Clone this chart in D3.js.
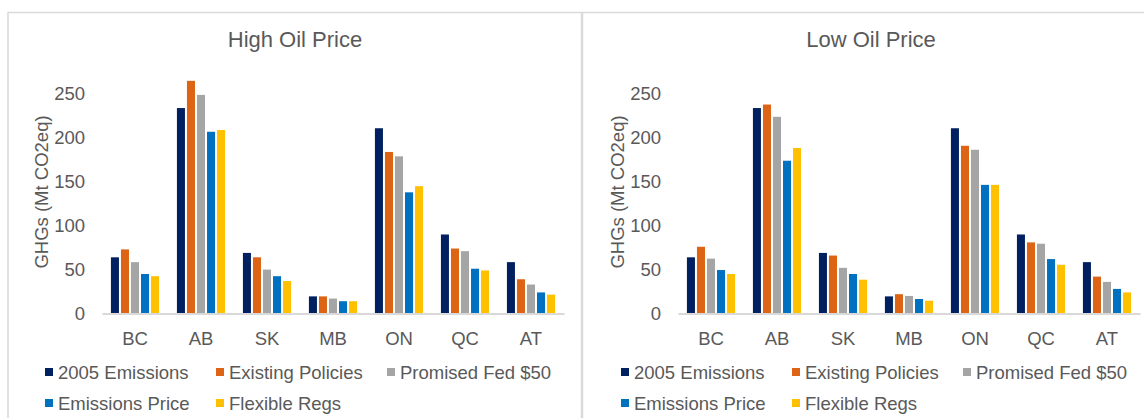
<!DOCTYPE html>
<html>
<head>
<meta charset="utf-8">
<script src="https://cdn.jsdelivr.net/npm/d3@7"></script>
<style>
  html, body { margin: 0; padding: 0; background: #fff; }
  svg { display: block; font-family: "Liberation Sans", Arial, sans-serif; }
</style>
</head>
<body>
<svg id="chart" width="1144" height="418"></svg>
<script>
// Provinces / regions on the x axis
const provinces = ["BC", "AB", "SK", "MB", "ON", "QC", "AT"];

// Scenario names (legend order)
const scenarios = ["2005 Emissions", "Existing Policies", "Promised Fed $50", "Emissions Price", "Flexible Regs"];
const scenarioColors = ["#002060", "#DD6414", "#A5A5A5", "#0070C0", "#FFC000"];

// Y axis ticks (Mt CO2eq)
const yTicks = [0, 50, 100, 150, 200, 250];

// High oil price scenario, Mt CO2eq per province
const highEmissions2005   = [64, 234, 69, 19.5, 211, 90, 58.5];
const highExisting        = [73, 265, 64, 19.5, 184, 74, 39];
const highPromisedFed50   = [58.5, 249, 50, 17, 179, 71, 33];
const highEmissionsPrice  = [45, 207, 42.5, 14, 138, 51, 24];
const highFlexibleRegs    = [42.5, 209, 37, 14, 145, 49, 21.5];

// Low oil price scenario, Mt CO2eq per province
const lowEmissions2005    = [64, 234, 69, 19.5, 211, 90, 58.5];
const lowExisting         = [76, 238, 66, 22, 191, 81, 42];
const lowPromisedFed50    = [62.5, 224, 52, 20, 186.5, 79.5, 36];
const lowEmissionsPrice   = [49.5, 174, 45, 16.5, 146.5, 62, 28];
const lowFlexibleRegs     = [45, 188.5, 38.5, 14.5, 146.5, 55.5, 24];

const panels = [
  { title: "High Oil Price", dx: 0,
    series: [highEmissions2005, highExisting, highPromisedFed50, highEmissionsPrice, highFlexibleRegs] },
  { title: "Low Oil Price", dx: 576,
    series: [lowEmissions2005, lowExisting, lowPromisedFed50, lowEmissionsPrice, lowFlexibleRegs] }
];

const svg = d3.select("#chart");
const textColor = "#595959";
const lineColor = "#D9D9D9";
const fontSize = 18.5;

// Chart frame: top edge, left edge and the divider between the two charts
svg.append("line").attr("x1", 8).attr("x2", 1144).attr("y1", 12.5).attr("y2", 12.5)
  .attr("stroke", lineColor).attr("stroke-width", 1.5);
svg.append("line").attr("x1", 8).attr("x2", 8).attr("y1", 12).attr("y2", 418)
  .attr("stroke", lineColor).attr("stroke-width", 1.5);
svg.append("line").attr("x1", 582).attr("x2", 582).attr("y1", 12).attr("y2", 418)
  .attr("stroke", lineColor).attr("stroke-width", 2.5);

const y = d3.scaleLinear().domain([0, 250]).range([313.5, 94]);

panels.forEach(p => {
  const g = svg.append("g").attr("transform", `translate(${p.dx},0)`);

  const x0 = d3.scaleBand().domain(provinces).range([102, 564])
    .paddingInner(0.24).paddingOuter(0.12);
  const x1 = d3.scaleBand().domain(scenarios).range([0, x0.bandwidth()])
    .paddingInner(0.2).paddingOuter(0.1);
  const color = d3.scaleOrdinal().domain(scenarios).range(scenarioColors);

  // Title
  g.append("text").attr("x", 295).attr("y", 47)
    .attr("text-anchor", "middle").attr("font-size", 22).attr("fill", textColor)
    .text(p.title);

  // Y axis labels (no axis line)
  const yAxis = d3.axisLeft(y).tickValues(yTicks).tickSize(0).tickPadding(0);
  const ya = g.append("g").attr("transform", "translate(85,0)").call(yAxis);
  ya.select(".domain").remove();
  ya.selectAll("text").attr("font-size", fontSize).attr("fill", textColor)
    .attr("font-family", "Liberation Sans, Arial, sans-serif");

  // Y axis title
  g.append("text")
    .attr("transform", "translate(48,192) rotate(-90)")
    .attr("text-anchor", "middle").attr("font-size", fontSize).attr("fill", textColor)
    .text("GHGs (Mt CO2eq)");

  // Bars
  const groups = g.selectAll("g.prov").data(provinces).join("g")
    .attr("class", "prov")
    .attr("transform", d => `translate(${x0(d)},0)`);
  groups.selectAll("rect")
    .data((d, i) => scenarios.map((s, k) => ({ s, v: p.series[k][i] })))
    .join("rect")
    .attr("x", d => x1(d.s))
    .attr("width", x1.bandwidth())
    .attr("y", d => y(d.v))
    .attr("height", d => y(0) - y(d.v))
    .attr("fill", d => color(d.s));

  // X axis baseline and category labels
  const xAxis = d3.axisBottom(x0).tickSize(0).tickPadding(18);
  const xa = g.append("g").attr("transform", `translate(0,${y(0)})`).call(xAxis);
  xa.select(".domain").attr("stroke", lineColor).attr("stroke-width", 2);
  xa.selectAll("text").attr("font-size", fontSize).attr("fill", textColor)
    .attr("font-family", "Liberation Sans, Arial, sans-serif");

  // Legend
  const legendPos = [[45, 0], [216, 0], [387, 0], [45, 1], [216, 1]];
  const lg = g.selectAll("g.leg").data(scenarios).join("g")
    .attr("class", "leg")
    .attr("transform", (d, i) => `translate(${legendPos[i][0]},${368 + legendPos[i][1] * 31})`);
  lg.append("rect").attr("width", 8).attr("height", 8).attr("fill", d => color(d));
  lg.append("text").attr("x", 13).attr("y", 11).attr("font-size", fontSize)
    .attr("fill", textColor).text(d => d);
});
</script>
</body>
</html>
